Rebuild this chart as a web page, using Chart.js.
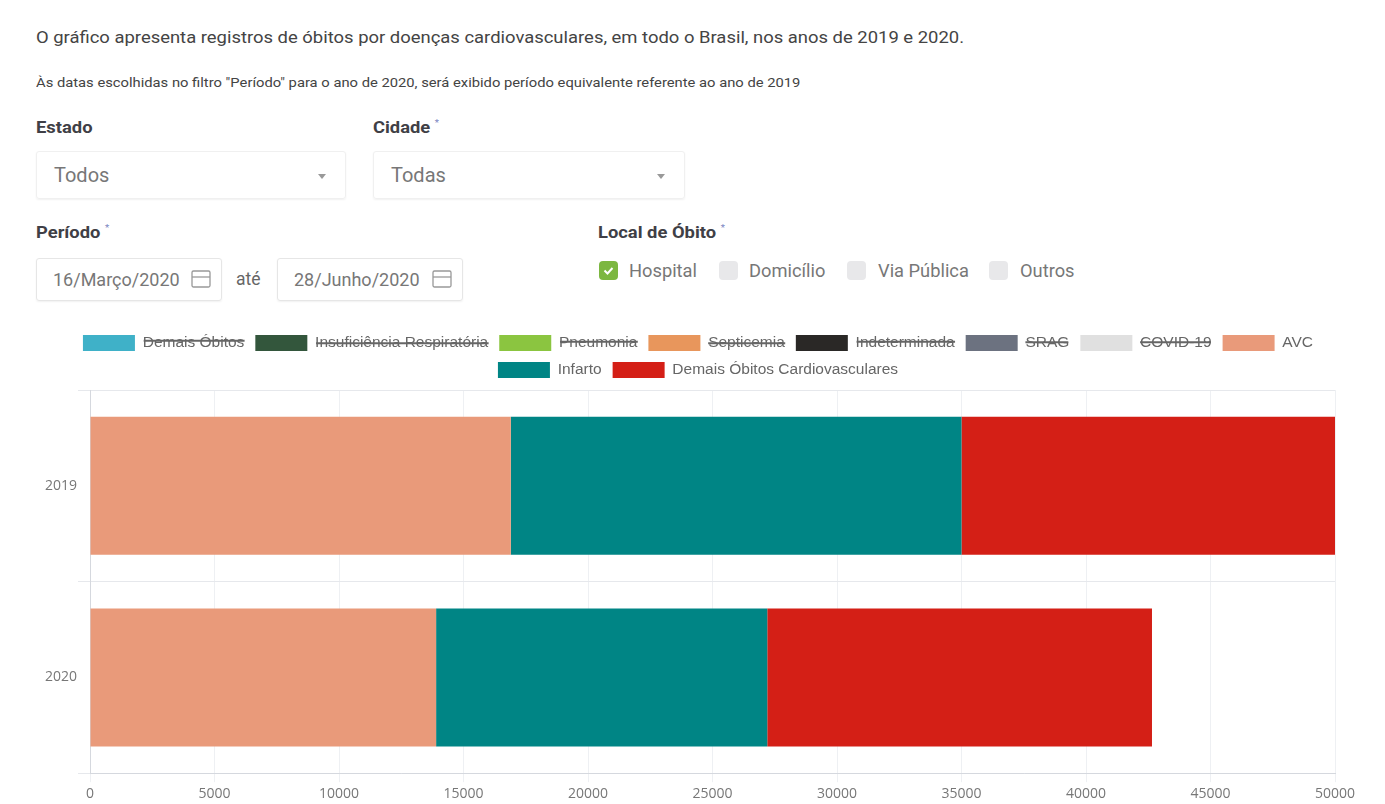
<!DOCTYPE html>
<html lang="pt-BR">
<head>
<meta charset="utf-8">
<title>Óbitos por doenças cardiovasculares</title>
<script src="https://cdn.jsdelivr.net/npm/chart.js@4"></script>
<style>
  html, body { margin: 0; padding: 0; background: #fff; }
  body { position: relative; width: 1385px; height: 804px; overflow: hidden; font-family: Roboto, sans-serif; color: #444; }
  .abs { position: absolute; white-space: nowrap; }
  .intro { left: 36px; top: 27px; font-size: 17px; line-height: 20px; color: #444; transform: scaleX(1.084); transform-origin: left; }
  .note { left: 36px; top: 75px; font-size: 13px; line-height: 16px; color: #444; transform: scaleX(1.135); transform-origin: left; }
  .label { font-size: 17px; line-height: 18px; font-weight: 700; color: #3f3f46; transform: scaleX(1.08); transform-origin: left; }
  .label sup { font-size: 9px; line-height: 0; font-weight: 400; color: #7b86c2; }
  .box { border: 1px solid #f0f0f0; border-radius: 3px; box-sizing: border-box; box-shadow: 0 1px 2px rgba(0,0,0,.06); }
  .select { height: 48px; top: 151px; font-size: 20px; line-height: 46px; color: #777; padding-left: 17px; }
  .select::after { content: ""; position: absolute; right: 19px; top: 22px; border: 4.5px solid transparent; border-top: 5px solid #999; }
  .date { height: 43px; top: 258px; font-size: 18px; line-height: 41px; color: #777; padding-left: 16px; border-color: #e6e6e6; }
  .date svg { position: absolute; right: 10px; top: 10px; }
  .check { width: 19px; height: 19px; top: 261px; border-radius: 4px; background: #e8e8ea; }
  .check.on { background: #7cb740; }
  .check svg { display: block; }
  .opt { top: 260px; font-size: 18.3px; line-height: 21px; color: #777; }
  #wrap { position: absolute; left: 26px; top: 324px; width: 1344px; height: 481px; }
</style>
</head>
<body>
<div class="abs intro">O gráfico apresenta registros de óbitos por doenças cardiovasculares, em todo o Brasil, nos anos de 2019 e 2020.</div>
<div class="abs note">Às datas escolhidas no filtro "Período" para o ano de 2020, será exibido período equivalente referente ao ano de 2019</div>

<div class="abs label" style="left:36px;top:118px">Estado</div>
<div class="abs label" style="left:373px;top:118px">Cidade <sup>*</sup></div>
<div class="abs box select" style="left:36px;width:310px">Todos</div>
<div class="abs box select" style="left:373px;width:312px">Todas</div>

<div class="abs label" style="left:36px;top:223px">Período <sup>*</sup></div>
<div class="abs box date" style="left:36px;width:186px">16/Março/2020
  <svg width="20" height="20" viewBox="0 0 20 20" fill="none" stroke="#999" stroke-width="1.3"><rect x="1" y="2" width="18" height="16" rx="1.5"/><path d="M1 8h18"/></svg>
</div>
<div class="abs" style="left:236px;top:269px;font-size:17.5px;line-height:21px;color:#666">até</div>
<div class="abs box date" style="left:277px;width:186px">28/Junho/2020
  <svg width="20" height="20" viewBox="0 0 20 20" fill="none" stroke="#999" stroke-width="1.3"><rect x="1" y="2" width="18" height="16" rx="1.5"/><path d="M1 8h18"/></svg>
</div>

<div class="abs label" style="left:598px;top:223px">Local de Óbito <sup>*</sup></div>
<div class="abs check on" style="left:599px"><svg width="19" height="19" viewBox="0 0 19 19" fill="none" stroke="#fff" stroke-width="2"><path d="M5.5 9.5l3 3 5-5.5"/></svg></div>
<div class="abs opt" style="left:629px">Hospital</div>
<div class="abs check" style="left:719px"></div>
<div class="abs opt" style="left:749px">Domicílio</div>
<div class="abs check" style="left:847px"></div>
<div class="abs opt" style="left:878px">Via Pública</div>
<div class="abs check" style="left:989px"></div>
<div class="abs opt" style="left:1020px">Outros</div>

<div id="wrap"><canvas id="obitosChart"></canvas></div>

<script>
// Data
const years = ["2019", "2020"];
const avc = [16900, 13900];
const infarto = [18100, 13300];
const demaisCardio = [15000, 15450];

// Series switched off in the legend, no values shown for them
const hiddenNames = ["Demais Óbitos", "Insuficiência Respiratória", "Pneumonia", "Septicemia", "Indeterminada", "SRAG", "COVID-19"];
const hiddenColors = ["#3fb1c8", "#33563c", "#8bc540", "#e8965c", "#2a2826", "#6c7280", "#e0e0e0"];

const datasets = hiddenNames.map((name, i) => ({
    label: name,
    data: [],
    backgroundColor: hiddenColors[i],
    hidden: true
}));
datasets.push({ label: "AVC", data: avc, backgroundColor: "#e99a7a" });
datasets.push({ label: "Infarto", data: infarto, backgroundColor: "#008585" });
datasets.push({ label: "Demais Óbitos Cardiovasculares", data: demaisCardio, backgroundColor: "#d41f16" });

// Extra room under the legend
const legendGap = {
    id: "legendGap",
    beforeInit(chart) {
        const fit = chart.legend.fit;
        chart.legend.fit = function () {
            fit.call(this);
            this.height += 2;
        };
    }
};

new Chart(document.getElementById("obitosChart"), {
    type: "bar",
    data: { labels: years, datasets: datasets },
    plugins: [legendGap],
    options: {
        indexAxis: "y",
        responsive: true,
        maintainAspectRatio: false,
        animation: false,
        categoryPercentage: 0.8,
        barPercentage: 0.9,
        plugins: {
            tooltip: { enabled: false },
            legend: {
                position: "top",
                labels: {
                    boxWidth: 52,
                    boxHeight: 16,
                    padding: 11,
                    color: "#666",
                    font: { family: "'Liberation Sans', Arial, sans-serif", size: 15.5 }
                }
            }
        },
        scales: {
            x: {
                stacked: true,
                min: 0,
                max: 50000,
                afterFit: (scale) => { scale.paddingRight = 35; },
                ticks: {
                    stepSize: 5000,
                    maxRotation: 0,
                    color: "#777",
                    font: { family: "'Open Sans', sans-serif", size: 14 },
                    callback: (value) => String(value)
                },
                grid: { color: "#eef0f3", tickLength: 9 },
                border: { color: "#d5d8de" }
            },
            y: {
                stacked: true,
                afterFit: (scale) => { scale.width = 64; },
                ticks: {
                    padding: 1,
                    color: "#777",
                    font: { family: "'Open Sans', sans-serif", size: 14 }
                },
                grid: { color: "#e6e8ec", tickLength: 12 },
                border: { color: "#d5d8de" }
            }
        }
    }
});
</script>
</body>
</html>
